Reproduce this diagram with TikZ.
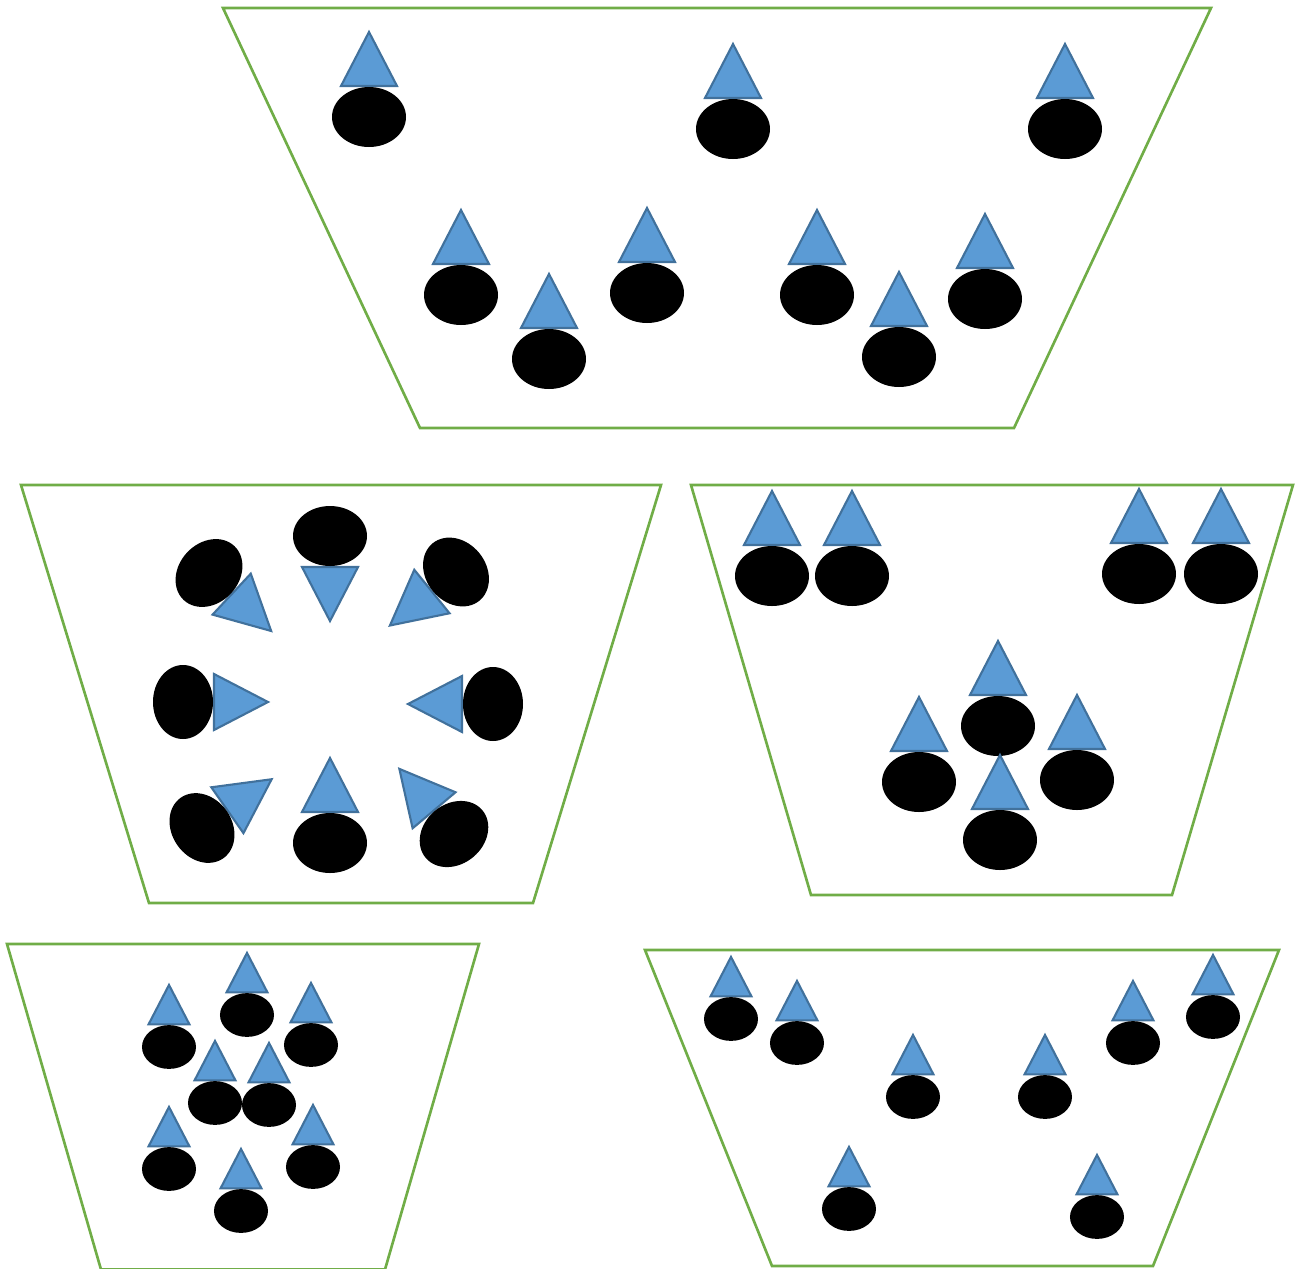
\documentclass[tikz,border=0pt]{standalone}
\usepackage{xcolor}
\usepackage{tikz}
\definecolor{traygreen}{HTML}{70AD47}
\definecolor{hatblue}{HTML}{5B9BD5}
\definecolor{hatedge}{HTML}{41719C}
\newcommand{\person}[4][1]{%
  \begin{scope}[shift={(#2,#3)},rotate=#4,scale=#1]
    \filldraw[hat] (-28,-31) -- (28,-31) -- (0,-85) -- cycle;
    \fill[head] (0,0) ellipse [x radius=37,y radius=30];
  \end{scope}}

\begin{document}
\begin{tikzpicture}[x=0.01cm,y=-0.01cm]
  \tikzstyle{tray}=[draw=traygreen,line width=0.75pt,line join=miter]
  \tikzstyle{hat}=[fill=hatblue,draw=hatedge,line width=0.6pt]
  \tikzstyle{head}=[fill=black]
  \useasboundingbox (0,0) rectangle (1296,1269);
  \draw[tray] (223,8) -- (1211,8) -- (1014,428) -- (420,428) -- cycle;
  \foreach \x/\y in {369/117,733/129,1065/129,461/295,549/359,647/293,817/295,899/357,985/299}
    {\person{\x}{\y}{0}}
  \draw[tray] (21,485) -- (661,485) -- (533,903) -- (149,903) -- cycle;
  \foreach \x/\y/\a in {330/536/180,209/573/-133,456/572/129,183/702/-90,493/704/90,202/828/-55,330/843/0,454/834/40}
    {\person{\x}{\y}{\a}}
  \draw[tray] (691,485) -- (1293,485) -- (1172,895) -- (811,895) -- cycle;
  \foreach \x/\y in {772/576,852/576,1139/574,1221/574,998/726,919/782,1077/780,1000/840}
    {\person{\x}{\y}{0}}
  \draw[tray] (7,944) -- (479,944) -- (385,1269.5) -- (101,1269.5) -- cycle;
  \foreach \x/\y in {247/1015,169/1047,311/1045,215/1103,269/1105,169/1169,313/1167,241/1211}
    {\person[0.73]{\x}{\y}{0}}
  \draw[tray] (645,950) -- (1279,950) -- (1153,1266) -- (772,1266) -- cycle;
  \foreach \x/\y in {731/1019,797/1043,913/1097,1045/1097,1133/1043,1213/1017,849/1209,1097/1217}
    {\person[0.73]{\x}{\y}{0}}
\end{tikzpicture}
\end{document}
